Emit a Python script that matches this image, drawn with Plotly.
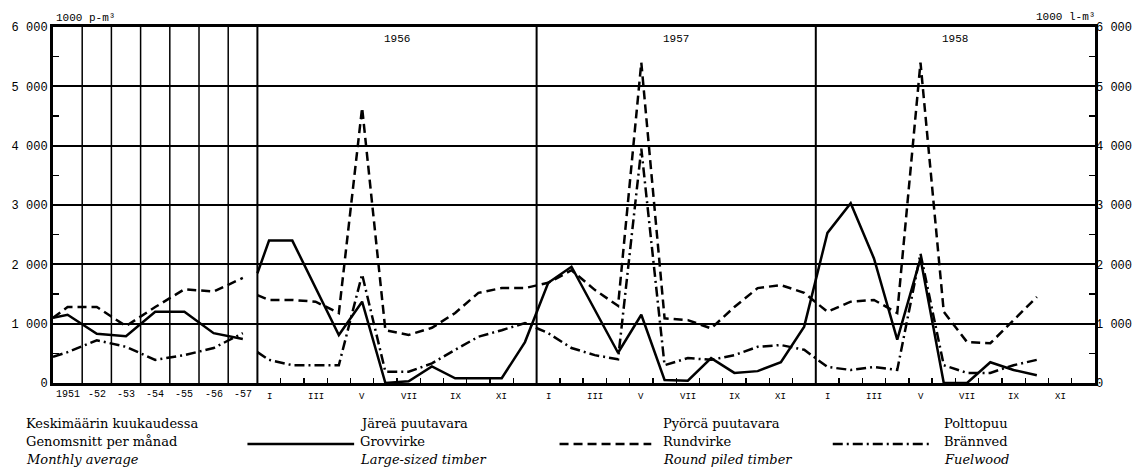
import plotly.graph_objects as go

# ---------------- data (1000 m3) ----------------
years = ["1951", "-52", "-53", "-54", "-55", "-56", "-57"]
month_labels = ["I", "", "III", "", "V", "", "VII", "", "IX", "", "XI", ""]
panel_years = ["1956", "1957", "1958"]

# yearly monthly-averages
large_yearly = [1150, 830, 790, 1200, 1200, 840, 740]
round_yearly = [1280, 1280, 960, 1280, 1580, 1540, 1770]
fuel_yearly = [520, 720, 610, 390, 470, 590, 840]
# value where each yearly curve starts at the left border
large_yearly_lead = 1100
round_yearly_lead = 1100
fuel_yearly_lead = 440

# monthly values
large_1956 = [2400, 2400, 1600, 810, 1370, 0, 30, 280, 80, 80, 80, 690]
large_1957 = [1690, 1960, 1230, 510, 1150, 50, 40, 420, 170, 200, 350, 950]
large_1958 = [2530, 3030, 2100, 730, 2100, 0, 0, 350, 220, 130]

round_1956 = [1400, 1400, 1370, 1180, 4640, 890, 810, 930, 1180, 1520, 1600, 1600]
round_1957 = [1690, 1900, 1570, 1300, 5400, 1090, 1060, 920, 1280, 1600, 1650, 1520]
round_1958 = [1200, 1370, 1400, 1180, 5400, 1200, 690, 670, 1060, 1450]

fuel_1956 = [390, 300, 300, 300, 1830, 190, 190, 330, 560, 780, 890, 1010]
fuel_1957 = [840, 590, 470, 400, 3950, 300, 420, 390, 470, 610, 640, 560]
fuel_1958 = [270, 220, 270, 220, 2180, 300, 170, 170, 300, 390]

# value where each monthly curve starts at the 1956 border (carried over from Dec 1955)
large_month_lead = 1850
round_month_lead = 1480
fuel_month_lead = 520

y_ticks = [0, 1000, 2000, 3000, 4000, 5000, 6000]
y_ticktext = ["0", "1 000", "2 000", "3 000", "4 000", "5 000", "6 000"]

# ---------------- layout geometry ----------------
W, H = 1144, 468
L, R, T, B = 52, 1097, 27, 383
YW = 1.0                       # width of one yearly column
MW = (840 / 36) / (205 / 7)    # width of one month column
N_Y = len(years)
N_M = 36
X0M = N_Y * YW
XMAX = X0M + N_M * MW

def px_x(px):
    return (px - L) / (R - L)

def px_y(py):
    return (B - py) / (B - T)

x_year = [(i + 0.5) * YW for i in range(N_Y)]
x_month = [X0M + (k + 0.5) * MW for k in range(N_M)]


def build(lead_y, yearly, lead_m, m56, m57, m58):
    xs = [0.0] + x_year + [None, X0M]
    ys = [lead_y] + yearly + [None, lead_m]
    mvals = m56 + m57 + m58
    xs += x_month[:len(mvals)]
    ys += mvals
    return xs, ys


DASH_SOLID = "solid"
DASH_ROUND = "9px,5px"
DASH_FUEL = "10px,4px,2px,4px"

fig = go.Figure()
for (lead_y, yearly, lead_m, a, b, c, dash) in [
    (large_yearly_lead, large_yearly, large_month_lead, large_1956, large_1957, large_1958, DASH_SOLID),
    (round_yearly_lead, round_yearly, round_month_lead, round_1956, round_1957, round_1958, DASH_ROUND),
    (fuel_yearly_lead, fuel_yearly, fuel_month_lead, fuel_1956, fuel_1957, fuel_1958, DASH_FUEL),
]:
    xs, ys = build(lead_y, yearly, lead_m, a, b, c)
    fig.add_trace(go.Scatter(x=xs, y=ys, mode="lines", connectgaps=False,
                             line=dict(color="black", width=2.5, dash=dash),
                             hoverinfo="skip", showlegend=False))

# dummy trace for right axis
fig.add_trace(go.Scatter(x=[None], y=[None], yaxis="y2", showlegend=False, hoverinfo="skip"))

shapes = []
# vertical lines in the yearly section
for i in range(1, N_Y + 1):
    shapes.append(dict(type="line", xref="x", yref="paper", x0=i * YW, x1=i * YW, y0=0, y1=1,
                       line=dict(color="black", width=2 if i == N_Y else 1.5)))
# year boundaries in the monthly section
for j in range(1, 3):
    xv = X0M + j * 12 * MW
    shapes.append(dict(type="line", xref="x", yref="paper", x0=xv, x1=xv, y0=0, y1=1,
                       line=dict(color="black", width=2)))

annotations = []
mono = "Liberation Mono, DejaVu Sans Mono, monospace"
tick_font = dict(family=mono, size=10, color="black")
# yearly labels
for i, lab in enumerate(years):
    annotations.append(dict(x=x_year[i], y=px_y(394), xref="x", yref="paper", text=lab,
                            showarrow=False, font=tick_font, xanchor="center", yanchor="middle"))
# month labels
for yi in range(3):
    for k, lab in enumerate(month_labels):
        if lab:
            annotations.append(dict(x=x_month[yi * 12 + k], y=px_y(397), xref="x", yref="paper",
                                    text=lab, showarrow=False, font=dict(family=mono, size=9, color="black"),
                                    xanchor="center", yanchor="middle"))
# year titles in panels
for yi, lab in enumerate(panel_years):
    annotations.append(dict(x=X0M + (yi + 0.5) * 12 * MW, y=px_y(39), xref="x", yref="paper", text=lab,
                            showarrow=False, font=dict(family=mono, size=11, color="black"),
                            xanchor="center", yanchor="middle"))
# unit labels
annotations.append(dict(x=px_x(53), y=px_y(18), xref="paper", yref="paper", text="1000 p-m³",
                        showarrow=False, font=dict(family=mono, size=11, color="black"),
                        xanchor="left", yanchor="middle"))
annotations.append(dict(x=px_x(1099), y=px_y(17), xref="paper", yref="paper", text="1000 l-m³",
                        showarrow=False, font=dict(family=mono, size=11, color="black"),
                        xanchor="right", yanchor="middle"))

# legend block
leg_font = "DejaVu Serif, Liberation Serif, serif"
rows = [423, 441, 459]
columns = [
    (23, ["Keskimäärin kuukaudessa", "Genomsnitt per månad", "<i>Monthly average</i>"]),
    (358, ["Järeä puutavara", "Grovvirke", "<i>Large-sized timber</i>"]),
    (662, ["Pyörcä puutavara", "Rundvirke", "<i>Round piled timber</i>"]),
    (944, ["Polttopuu", "Brännved", "<i>Fuelwood</i>"]),
]
for x0, texts in columns:
    for ry, t in zip(rows, texts):
        annotations.append(dict(x=px_x(x0), y=px_y(ry), xref="paper", yref="paper", text=t,
                                showarrow=False, font=dict(family=leg_font, size=13, color="black"),
                                xanchor="left", yanchor="middle"))
samples = [(247, 354, DASH_SOLID), (560, 652, DASH_ROUND), (834, 933, DASH_FUEL)]
for a, b, dash in samples:
    shapes.append(dict(type="line", xref="paper", yref="paper", x0=px_x(a), x1=px_x(b),
                       y0=px_y(444), y1=px_y(444), line=dict(color="black", width=2.5, dash=dash)))

month_bounds = [X0M + k * MW for k in range(1, N_M)]

fig.update_layout(
    width=W, height=H,
    margin=dict(l=L, r=W - R, t=T, b=H - B),
    paper_bgcolor="white", plot_bgcolor="white",
    showlegend=False,
    shapes=shapes, annotations=annotations,
    xaxis=dict(range=[0, XMAX], showgrid=False, zeroline=False,
               tickvals=month_bounds, ticks="inside", ticklen=5, tickwidth=1.3, tickcolor="black",
               showticklabels=False, showline=True, linecolor="black", linewidth=3, mirror=True),
    yaxis=dict(range=[0, 6000], tickvals=y_ticks, ticktext=y_ticktext, ticks="",
               showgrid=True, gridcolor="black", gridwidth=2, zeroline=False,
               showline=True, linecolor="black", linewidth=3, mirror=True,
               tickfont=dict(family=mono, size=12, color="black"),
               minor=dict(tickvals=[500, 1500, 2500, 3500, 4500, 5500], ticks="inside", ticklen=6,
                          tickcolor="black", tickwidth=1.3, showgrid=False)),
    yaxis2=dict(range=[0, 6000], overlaying="y", side="right", tickvals=y_ticks, ticktext=y_ticktext,
                ticks="", showgrid=False, zeroline=False, showline=False,
                tickfont=dict(family=mono, size=12, color="black"),
                minor=dict(tickvals=[500, 1500, 2500, 3500, 4500, 5500], ticks="inside", ticklen=6,
                           tickcolor="black", tickwidth=1.3, showgrid=False)),
)

fig.write_html("out.html", config={"displayModeBar": False, "staticPlot": True},
               post_script="document.body.style.margin='0';document.body.style.overflow='hidden';")
